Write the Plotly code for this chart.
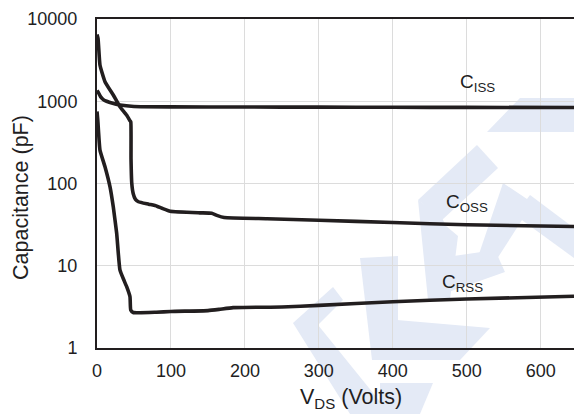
import plotly.graph_objects as go

# Drain-source voltage (V) and capacitance (pF) for each curve
ciss_v = [0, 1.4, 5, 9, 13, 20, 31, 50, 100, 200, 300, 400, 500, 645]
ciss_pf = [1350, 1300, 1130, 1040, 1000, 950, 900, 865, 855, 850, 848, 845, 842, 840]

coss_v = [0, 1.4, 4, 10.8, 22, 31, 40, 44.6, 45.7, 46, 47, 49, 52, 56, 70, 81, 88, 99, 139, 155,
          162, 172, 230, 300, 400, 500, 645]
coss_pf = [6500, 5800, 2760, 1730, 1190, 860, 680, 580, 560, 200, 101, 75, 64, 60, 56, 53, 50, 46,
           44, 43.5, 41, 38.6, 37.3, 35.8, 33.5, 31.5, 30]

crss_v = [0, 1, 4, 10.8, 17.6, 22, 26.6, 31, 36, 40, 44.6, 45.6, 49, 80, 100, 150, 165, 184, 250,
          300, 400, 500, 645]
crss_pf = [750, 600, 255, 160, 91, 52, 24.8, 8.9, 6.8, 5.6, 4.2, 2.9, 2.7, 2.72, 2.78, 2.85, 2.95,
           3.1, 3.15, 3.3, 3.65, 3.95, 4.25]

# Curve labels: voltage and log10(pF) position
label_text = ["C<sub>ISS</sub>", "C<sub>OSS</sub>", "C<sub>RSS</sub>"]
label_v = [515, 500, 494]
label_log_pf = [3.22, 1.763, 0.796]

x_ticks = [0, 100, 200, 300, 400, 500, 600]
y_ticks = [1, 10, 100, 1000, 10000]

LINE = "#221e1f"
GRID = "#dcdcdc"
WM = "#e4eaf6"
FONT = "Liberation Sans, Arial, sans-serif"

W, H = 574, 414
L, R, T, B = 97, 0, 19, 66
PW, PH = W - L - R, H - T - B


def to_paper(pts):
    """Convert pixel positions of the background logo into paper coordinates."""
    return [((x - L) / PW, (H - B - y) / PH) for x, y in pts]


def poly_path(pts):
    p = to_paper(pts)
    return "M " + " L ".join(f"{x:.4f},{y:.4f}" for x, y in p) + " Z"


# Pale background logo pieces
logo_parts = [
    [(487, 132), (520, 98), (574, 98), (574, 132)],
    [(477, 145), (498, 168), (442, 220), (418, 200)],
    [(418, 200), (442, 218), (446, 226), (458, 236), (450, 300), (428, 300)],
    [(440, 258), (495, 250), (505, 272), (440, 295)],
    [(503, 183), (533, 203), (495, 262), (478, 257)],
    [(530, 195), (574, 228), (574, 258), (515, 215)],
    [(360, 258), (398, 256), (398, 360), (372, 360)],
    [(397, 320), (490, 328), (460, 360), (397, 360)],
    [(293, 323), (333, 287), (343, 300), (318, 325), (390, 414), (350, 414)],
    [(380, 383), (433, 383), (420, 414), (380, 414)],
]

shapes = [
    dict(type="path", path=poly_path(p), xref="paper", yref="paper",
         fillcolor=WM, line=dict(width=0), layer="below")
    for p in logo_parts
]

fig = go.Figure()
for xs, ys in [(ciss_v, ciss_pf), (coss_v, coss_pf), (crss_v, crss_pf)]:
    fig.add_trace(go.Scatter(x=xs, y=ys, mode="lines",
                             line=dict(color=LINE, width=3.6, shape="spline", smoothing=0.4),
                             showlegend=False, hoverinfo="skip"))

annotations = [
    dict(text=t, x=xv, y=yv, xref="x", yref="y", showarrow=False,
         font=dict(family=FONT, size=19, color=LINE), xanchor="center", yanchor="middle")
    for t, xv, yv in zip(label_text, label_v, label_log_pf)
]
annotations.append(dict(text="V<sub>DS</sub> (Volts)", x=(351 - L) / PW, y=(H - B - 398) / PH,
                        xref="paper", yref="paper", showarrow=False, xanchor="center",
                        yanchor="middle", font=dict(family=FONT, size=21.5, color=LINE)))
annotations.append(dict(text="Capacitance (pF)", x=(21 - L) / PW, y=(H - B - 198) / PH,
                        xref="paper", yref="paper", showarrow=False, xanchor="center",
                        yanchor="middle", textangle=-90,
                        font=dict(family=FONT, size=21.5, color=LINE)))

fig.update_layout(
    width=W, height=H,
    margin=dict(l=L, r=R, t=T, b=B, pad=0),
    paper_bgcolor="white", plot_bgcolor="rgba(0,0,0,0)",
    font=dict(family=FONT, size=18, color=LINE),
    shapes=shapes,
    annotations=annotations,
)
fig.update_xaxes(range=[0, 645], tickvals=x_ticks, ticktext=[str(v) for v in x_ticks],
                 showgrid=True, gridcolor=GRID, gridwidth=1.3, zeroline=False,
                 showline=True, linecolor=LINE, linewidth=2, mirror=True,
                 ticks="", ticklabelstandoff=5, tickfont=dict(size=18, color=LINE, family=FONT))
fig.update_yaxes(type="log", range=[0, 4], tickvals=y_ticks, ticktext=[str(v) for v in y_ticks],
                 showgrid=True, gridcolor=GRID, gridwidth=1.3, zeroline=False,
                 showline=True, linecolor=LINE, linewidth=2,
                 ticks="", ticklabelstandoff=14, tickfont=dict(size=18, color=LINE, family=FONT))

fig.write_html("out.html")
